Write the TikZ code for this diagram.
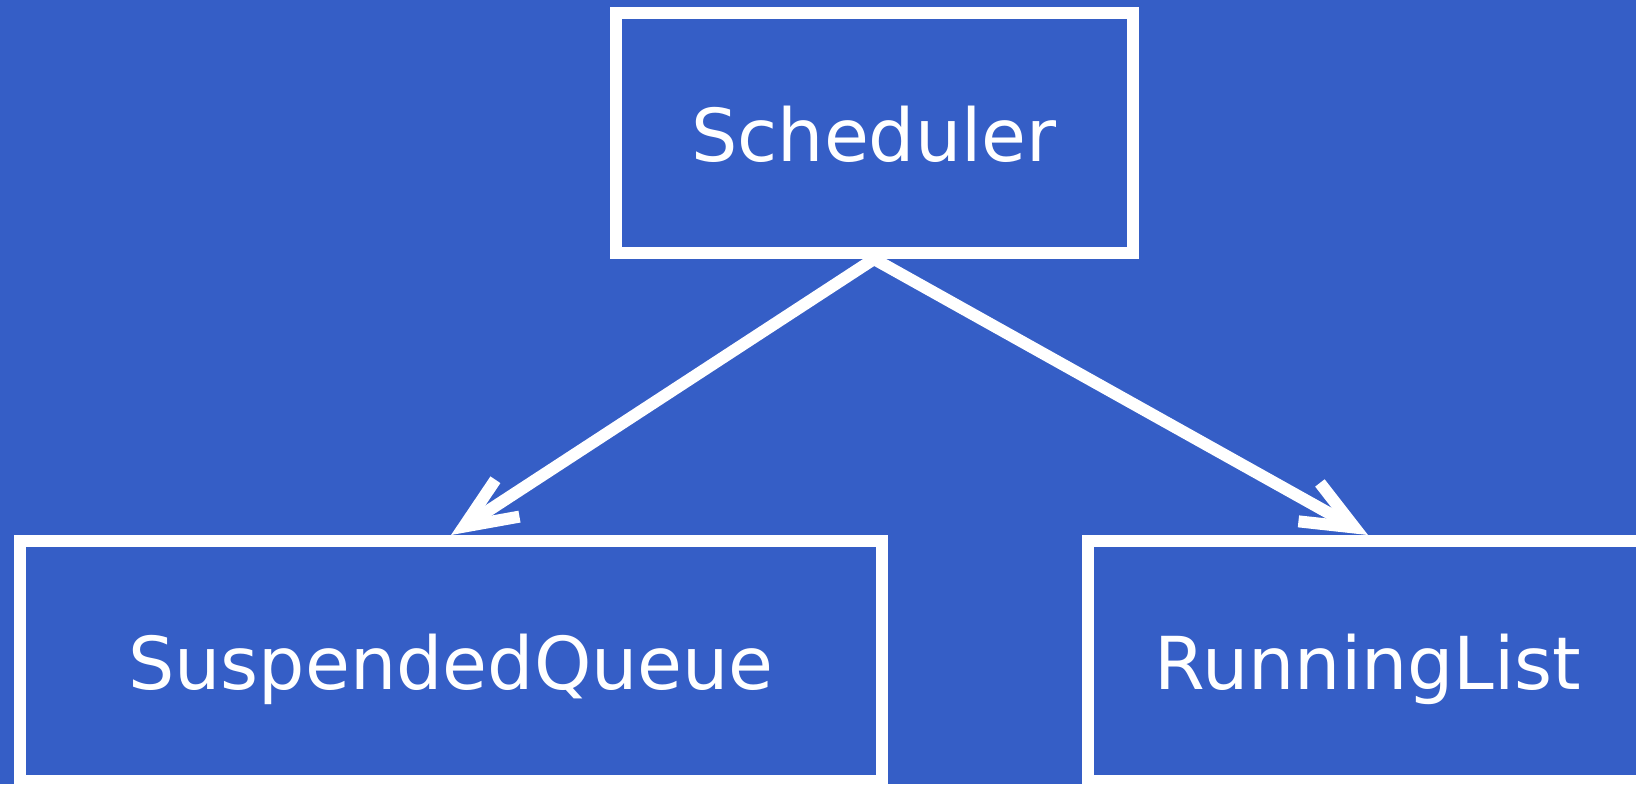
\documentclass[tikz,border=0pt]{standalone}
\usepackage{fontspec}
\setmainfont{DejaVu Sans}
\usetikzlibrary{arrows.meta}
\definecolor{bgblue}{HTML}{355EC6}

\begin{document}
\begin{tikzpicture}[x=0.5pt,y=-0.5pt,
  box/.style={draw=white,line width=6pt,text=white,inner sep=0pt,
    minimum height=120pt,text height=28pt,text depth=0pt,
    font=\fontsize{36.5}{42}\selectfont},
  link/.style={draw=white,line width=6pt,
    -{Straight Barb[length=26pt 0 0,width=22pt 0 0,line cap=butt,line join=miter]}}]
  \fill[bgblue] (0,0) rectangle (1636,784);
  \useasboundingbox (0,0) rectangle (1636,784);
  \node[box,minimum width=258.5pt] (sched) at (874,133) {Scheduler};
  \node[box,minimum width=430.75pt] (suspq) at (451,661) {SuspendedQueue};
  \node[box,minimum width=280.5pt] (runl) at (1368,661) {RunningList};
  \draw[link] (sched.south) -- (suspq.north);
  \draw[link] (sched.south) -- (runl.north);
\end{tikzpicture}
\end{document}
